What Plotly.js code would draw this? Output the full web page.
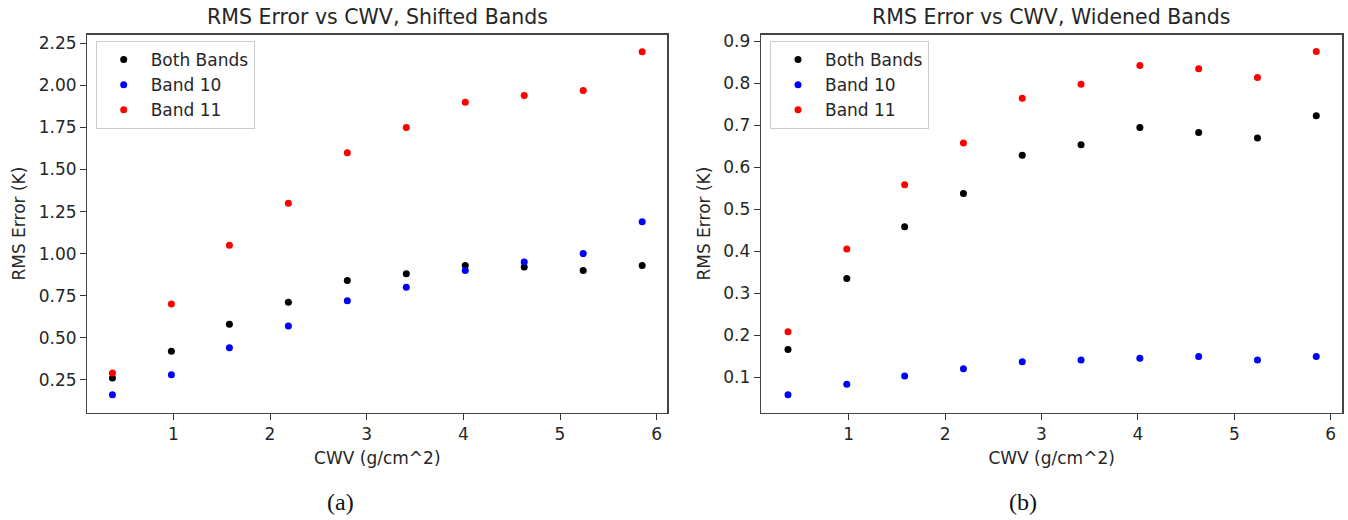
<!DOCTYPE html>
<html>
<head>
<meta charset="utf-8">
<script src="https://cdn.plot.ly/plotly-3.0.1.min.js"></script>
<style>
  html, body { margin: 0; padding: 0; background: #fff; }
  #chart { width: 1348px; height: 520px; }
</style>
</head>
<body>
<div id="chart"></div>
<script>
// Column water vapour (g/cm^2) bins shared by both panels
const cwv = [0.37, 0.98, 1.58, 2.19, 2.80, 3.41, 4.02, 4.63, 5.24, 5.85];

// Panel (a): shifted bands, RMS error (K)
const shiftedBoth   = [0.26, 0.42, 0.58, 0.71, 0.84, 0.88, 0.93, 0.92, 0.90, 0.93];
const shiftedBand10 = [0.16, 0.28, 0.44, 0.57, 0.72, 0.80, 0.90, 0.95, 1.00, 1.19];
const shiftedBand11 = [0.29, 0.70, 1.05, 1.30, 1.60, 1.75, 1.90, 1.94, 1.97, 2.20];

// Panel (b): widened bands, RMS error (K)
const widenedBoth   = [0.166, 0.335, 0.458, 0.537, 0.628, 0.653, 0.694, 0.682, 0.669, 0.722];
const widenedBand10 = [0.058, 0.083, 0.103, 0.120, 0.137, 0.141, 0.145, 0.149, 0.141, 0.149];
const widenedBand11 = [0.208, 0.405, 0.558, 0.657, 0.764, 0.797, 0.842, 0.834, 0.813, 0.875];

const seriesNames = ['Both Bands', 'Band 10', 'Band 11'];
const seriesColors = ['#000000', '#0000ff', '#ff0000'];

const FONT = 'DejaVu Sans, sans-serif';
const TXT = '#262626';

function scatter(y, i, xa, ya, legendId) {
  return {
    type: 'scatter', mode: 'markers',
    x: cwv, y: y,
    name: seriesNames[i],
    xaxis: xa, yaxis: ya,
    legend: legendId,
    marker: { color: seriesColors[i], size: 7, line: { width: 0 } },
    hoverinfo: 'x+y+name'
  };
}

const traces = [
  scatter(shiftedBoth, 0, 'x', 'y', 'legend'),
  scatter(shiftedBand10, 1, 'x', 'y', 'legend'),
  scatter(shiftedBand11, 2, 'x', 'y', 'legend'),
  scatter(widenedBoth, 0, 'x2', 'y2', 'legend2'),
  scatter(widenedBand10, 1, 'x2', 'y2', 'legend2'),
  scatter(widenedBand11, 2, 'x2', 'y2', 'legend2')
];

const W = 1348, H = 520;
const px = v => v / W;
const py = v => (H - v) / H;

function xAxis(domain, range, anchor) {
  return {
    domain: domain, range: range, anchor: anchor,
    tickvals: [1, 2, 3, 4, 5, 6],
    ticks: 'outside', ticklen: 6, tickwidth: 1, tickcolor: '#333',
    showline: true, mirror: true, linecolor: '#444', linewidth: 1.3,
    showgrid: false, zeroline: false,
    tickfont: { family: FONT, size: 17, color: TXT },
    title: { text: 'CWV (g/cm^2)', font: { family: FONT, size: 17, color: TXT }, standoff: 9 }
  };
}

function yAxis(domain, range, anchor, dtick, fmt, tick0) {
  return {
    domain: domain, range: range, anchor: anchor,
    tick0: tick0, dtick: dtick, tickformat: fmt,
    ticks: 'outside', ticklen: 6, tickwidth: 1, tickcolor: '#333',
    showline: true, mirror: true, linecolor: '#444', linewidth: 1.3,
    showgrid: false, zeroline: false,
    tickfont: { family: FONT, size: 17, color: TXT },
    title: { text: 'RMS Error (K)', font: { family: FONT, size: 17, color: TXT }, standoff: 8 }
  };
}

const yDom = [py(412.5), py(34.7)];

function legendBox(left) {
  return {
    x: px(left), y: py(41), xanchor: 'left', yanchor: 'top',
    bgcolor: 'rgba(255,255,255,0.85)', bordercolor: '#cccccc', borderwidth: 1,
    font: { family: FONT, size: 17, color: TXT },
    itemwidth: 44, tracegroupgap: 0
  };
}

const layout = {
  width: W, height: H,
  margin: { l: 0, r: 0, t: 0, b: 0 },
  paper_bgcolor: '#ffffff', plot_bgcolor: '#ffffff',
  showlegend: true,
  xaxis: xAxis([px(87.3), px(667.3)], [0.11, 6.11], 'y'),
  yaxis: yAxis(yDom, [0.055, 2.302], 'x', 0.25, '.2f', 0),
  xaxis2: xAxis([px(761), px(1342.3)], [0.09, 6.12], 'y2'),
  yaxis2: yAxis(yDom, [0.016, 0.915], 'x2', 0.1, '.1f', 0),
  legend: legendBox(95.7),
  legend2: legendBox(770),
  annotations: [
    { text: 'RMS Error vs CWV, Shifted Bands', xref: 'paper', yref: 'paper',
      x: px(377.3), y: py(16.5), xanchor: 'center', yanchor: 'middle', showarrow: false,
      font: { family: FONT, size: 20.5, color: TXT } },
    { text: 'RMS Error vs CWV, Widened Bands', xref: 'paper', yref: 'paper',
      x: px(1051.7), y: py(16.5), xanchor: 'center', yanchor: 'middle', showarrow: false,
      font: { family: FONT, size: 20.5, color: TXT } },
    { text: '(a)', xref: 'paper', yref: 'paper',
      x: px(340.8), y: py(502), xanchor: 'center', yanchor: 'middle', showarrow: false,
      font: { family: 'Liberation Serif, serif', size: 24, color: '#111' } },
    { text: '(b)', xref: 'paper', yref: 'paper',
      x: px(1022.6), y: py(502), xanchor: 'center', yanchor: 'middle', showarrow: false,
      font: { family: 'Liberation Serif, serif', size: 24, color: '#111' } }
  ]
};

Plotly.newPlot('chart', traces, layout, { displayModeBar: false, staticPlot: true });
</script>
</body>
</html>
